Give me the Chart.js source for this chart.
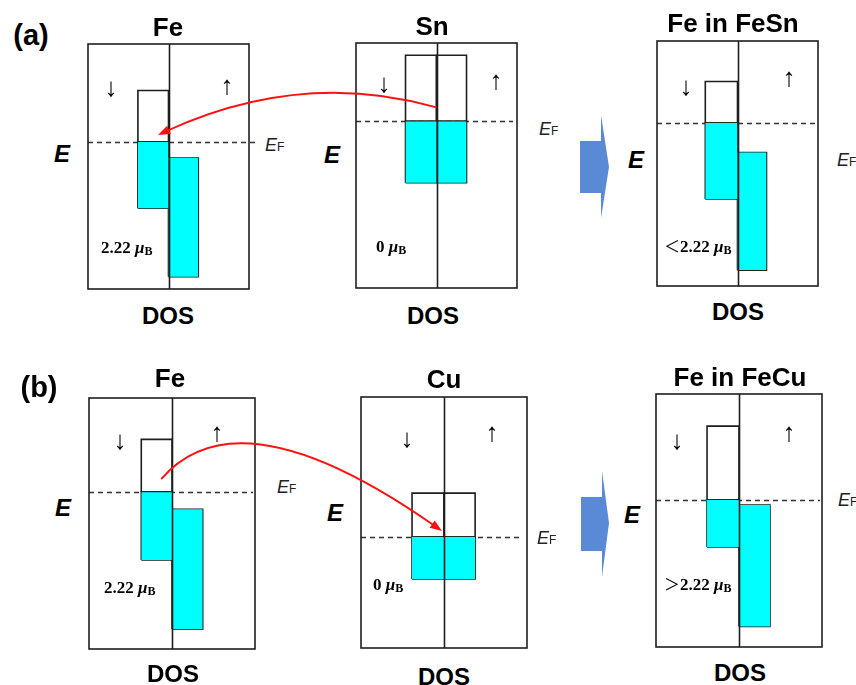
<!DOCTYPE html>
<html><head><meta charset="utf-8">
<script src="https://cdn.jsdelivr.net/npm/chart.js@4.4.0/dist/chart.umd.min.js"></script>
<style>
html,body{margin:0;padding:0;background:#fff;}
#wrap{position:relative;width:856px;height:685px;overflow:hidden;background:#fff;}
canvas.panel{position:absolute;}
.t{position:absolute;transform:translate(-50%,-50%);white-space:nowrap;color:#000;line-height:1;}
.tl{position:absolute;transform:translate(0,-50%);white-space:nowrap;color:#000;line-height:1;}
.title{font:bold 26px "Liberation Sans",Arial,sans-serif;}
.dos{font:bold 24px "Liberation Sans",Arial,sans-serif;}
.lab{font:bold 29px "Liberation Sans",Arial,sans-serif;}
.E{font:italic bold 24px "Liberation Sans",Arial,sans-serif;}
.EF{font:italic 18px "Liberation Sans",Arial,sans-serif;color:#222;}
.EF span{font-style:normal;font-size:12px;}
.mom{font:bold 17px "Liberation Serif","Times New Roman",serif;}
.mom i{font-style:italic;}
.mom span.s{font-size:12px;position:relative;top:2px;}
.mom span.cmp{font:normal 16px "Noto Sans CJK SC",sans-serif;}
.spin{font:26px "Liberation Sans",sans-serif;}
#ov{position:absolute;left:0;top:0;pointer-events:none;}
</style></head><body><div id="wrap"></div>
<script>
// ---------------- data ----------------
const panelNames = ['Fe', 'Sn', 'Fe in FeSn', 'Fe', 'Cu', 'Fe in FeCu'];
const rowLabels = ['(a)', '(b)'];
// energy axis range of each panel (E_F = 0)
const energyMin = [-6.0, -6.8, -6.65, -6.25, -4.42, -5.81];
const energyMax = [4.0, 3.2, 3.35, 3.75, 5.58, 4.19];
// spin-down band (left of DOS axis)
const downDOS = [0.38, 0.385, 0.40, 0.37, 0.385, 0.385];
const downBottom = [-2.7, -2.5, -3.1, -2.7, -1.67, -1.86];
const downTop = [2.1, 2.7, 1.7, 2.1, 1.75, 2.92];
// spin-up band (right of DOS axis)
const upDOS = [0.37, 0.373, 0.36, 0.37, 0.375, 0.373];
const upBottom = [-5.5, -2.5, -6.0, -5.46, -1.67, -5.0];
const upTop = [-0.65, 2.7, -1.2, -0.68, 1.75, -0.2];
// magnetic moments
const momentPrefix = ['', '', '＜', '', '', '＞'];
const momentValue = ['2.22', '0', '2.22', '2.22', '0', '2.22'];
// charge transfer arrows: [fromPanel, fromDOS, fromE, toPanel, toDOS, toE]
const transferFrom = [[1, 0.0, 0.57], [3, -0.13, 0.52]];
const transferTo = [[0, -0.13, 0.29], [4, -0.024, 0.24]];

// ---------------- layout / style ----------------
const boxes = [[88,44,249,289],[356,43,517,288],[657,41,818,286],[89,398,255,649],[361,397,527,648],[656,394,822,647]];
const dashRightExtra = [7,-4,-3,-2,-4,-2];
const titlePos = [[168,27],[432,26],[733,23],[170,378],[444,379],[740,377]];
const dosPos = [[168,316],[433,316],[738,312],[173,674],[444,677],[740,673]];
const ePos = [[62,154],[332,155],[636,160],[63,508],[335,513],[632,515]];
const efPos = [[265,145],[539,129],[837,160],[277,487],[537,538],[838,500]];
const momPos = [[101,248],[376,247],[664,245],[104,588],[373,585],[664,583]];
const downArrowPos = [[111,87],[384,83],[686,86],[120,440],[407,438],[677,440]];
const upArrowPos = [[227,85],[496,80],[789,77],[217,432],[492,432],[789,432]];
const labelPos = [[31,35],[39,387]];
const bendOffset = [[5,-52],[-63,-116]];
const blueArrows = [[580,141,193,601,115,218,609,167],[581,497,551,602,471,577,609,523]];
const CYAN = '#00ffff', EDGE = '#1e1e1e', PAD = 12;

const wrap = document.getElementById('wrap');
function addText(cls, html, x, y, left) {
  const d = document.createElement('div');
  d.className = (left ? 'tl ' : 't ') + cls;
  d.innerHTML = html;
  d.style.left = x + 'px'; d.style.top = y + 'px';
  wrap.appendChild(d);
}

const framePlugin = {
  id: 'frame',
  beforeDatasetsDraw(chart, args, opts) {
    const {ctx, chartArea: a, scales: {y}} = chart;
    const yy = Math.round(y.getPixelForValue(0)) + 0.5;
    ctx.save();
    ctx.strokeStyle = '#333'; ctx.lineWidth = 1.3; ctx.setLineDash([5, 4]);
    ctx.beginPath(); ctx.moveTo(a.left, yy); ctx.lineTo(a.right + opts.extra, yy); ctx.stroke();
    ctx.restore();
  },
  afterDatasetsDraw(chart) {
    const {ctx, chartArea: a, scales: {x}} = chart;
    const xx = Math.round(x.getPixelForValue(0)) + 0.5;
    ctx.save();
    ctx.strokeStyle = EDGE; ctx.lineWidth = 1.6;
    ctx.beginPath(); ctx.moveTo(xx, a.top); ctx.lineTo(xx, a.bottom); ctx.stroke();
    ctx.strokeRect(a.left, a.top, a.right - a.left, a.bottom - a.top);
    ctx.restore();
  }
};

function rect(x0, x1, y0, y1) {
  return {
    data: [{x:x0,y:y0},{x:x0,y:y1},{x:x1,y:y1},{x:x1,y:y0},{x:x0,y:y0}],
    borderColor: EDGE, borderWidth: 1.6, pointRadius: 0, tension: 0, fill: false
  };
}
function fillRect(x0, x1, y0, y1) {
  return {
    data: [{x:x0,y:y1},{x:x1,y:y1}],
    borderWidth: 0, borderColor: 'rgba(0,0,0,0)', backgroundColor: CYAN,
    pointRadius: 0, tension: 0, fill: {value: y0}
  };
}
function bandSets(x0, x1, lo, hi) {
  const out = [];
  const fTop = Math.min(hi, 0);
  if (fTop > lo) { out.push(fillRect(x0, x1, lo, fTop)); out.push(rect(x0, x1, lo, fTop)); }
  if (hi > 0) out.push(rect(x0, x1, Math.max(lo, 0), hi));
  return out;
}

const charts = [];
panelNames.forEach((name, i) => {
  const [l, t, r, b] = boxes[i];
  const cv = document.createElement('canvas');
  cv.className = 'panel';
  cv.width = r - l + 2 * PAD; cv.height = b - t + 2 * PAD;
  cv.style.left = (l - PAD) + 'px'; cv.style.top = (t - PAD) + 'px';
  cv.style.width = cv.width + 'px'; cv.style.height = cv.height + 'px';
  wrap.appendChild(cv);
  const fills = [], lines = [];
  [...bandSets(-downDOS[i], 0, downBottom[i], downTop[i]), ...bandSets(0, upDOS[i], upBottom[i], upTop[i])]
    .forEach(d => (d.backgroundColor === CYAN ? fills : lines).push(d));
  charts.push(new Chart(cv, {
    type: 'line',
    data: {datasets: [...fills, ...lines]},
    options: {
      responsive: false, animation: false, events: [],
      layout: {padding: PAD},
      plugins: {legend: {display: false}, tooltip: {enabled: false}, frame: {extra: dashRightExtra[i]}},
      scales: {
        x: {type: 'linear', min: -1, max: 1, display: false},
        y: {type: 'linear', min: energyMin[i], max: energyMax[i], display: false}
      }
    },
    plugins: [framePlugin]
  }));

  addText('title', name, titlePos[i][0], titlePos[i][1]);
  addText('dos', 'DOS', dosPos[i][0], dosPos[i][1]);
  addText('E', 'E', ePos[i][0], ePos[i][1]);
  addText('EF', 'E<span>F</span>', efPos[i][0], efPos[i][1], true);
  addText('mom', (momentPrefix[i] ? '<span class="cmp">' + momentPrefix[i] + '</span>' : '') + momentValue[i] + ' <i>μ</i><span class="s">B</span>', momPos[i][0], momPos[i][1], true);
  addText('spin', '↓', downArrowPos[i][0], downArrowPos[i][1]);
  addText('spin', '↑', upArrowPos[i][0], upArrowPos[i][1]);
});
rowLabels.forEach((s, k) => addText('lab', s, labelPos[k][0], labelPos[k][1]));

// overlay: charge-transfer arrows and process arrows
const ov = document.createElement('canvas');
ov.id = 'ov'; ov.width = 856; ov.height = 685;
wrap.appendChild(ov);
const g = ov.getContext('2d');
function toPage(ci, x, y) {
  const c = charts[ci];
  return [c.scales.x.getPixelForValue(x) + boxes[ci][0] - PAD, c.scales.y.getPixelForValue(y) + boxes[ci][1] - PAD];
}
transferFrom.forEach((f, k) => {
  const tt = transferTo[k];
  const p0 = toPage(f[0], f[1], f[2]);
  const p2 = toPage(tt[0], tt[1], tt[2]);
  const c = [(p0[0] + p2[0]) / 2 + bendOffset[k][0], (p0[1] + p2[1]) / 2 + bendOffset[k][1]];
  let dx = p2[0] - c[0], dy = p2[1] - c[1];
  const len = Math.hypot(dx, dy); dx /= len; dy /= len;
  const L = 12, W = 4.5;
  const base = [p2[0] - dx * L, p2[1] - dy * L];
  g.save();
  g.strokeStyle = '#ff1010'; g.fillStyle = '#ff1010'; g.lineWidth = 1.8;
  g.beginPath(); g.moveTo(p0[0], p0[1]);
  g.quadraticCurveTo(c[0], c[1], base[0] + dx * 2, base[1] + dy * 2); g.stroke();
  g.beginPath(); g.moveTo(p2[0], p2[1]);
  g.lineTo(base[0] - dy * W, base[1] + dx * W);
  g.lineTo(base[0] + dy * W, base[1] - dx * W);
  g.closePath(); g.fill();
  g.restore();
});
blueArrows.forEach(a => {
  const [x0, y0, y1, xb, yt, yb, xt, yc] = a;
  g.save();
  g.fillStyle = '#5a8ad6';
  g.beginPath();
  g.moveTo(x0, y0); g.lineTo(xb, y0); g.lineTo(xb, yt); g.lineTo(xt, yc);
  g.lineTo(xb, yb); g.lineTo(xb, y1); g.lineTo(x0, y1); g.closePath(); g.fill();
  g.restore();
});
</script></body></html>
